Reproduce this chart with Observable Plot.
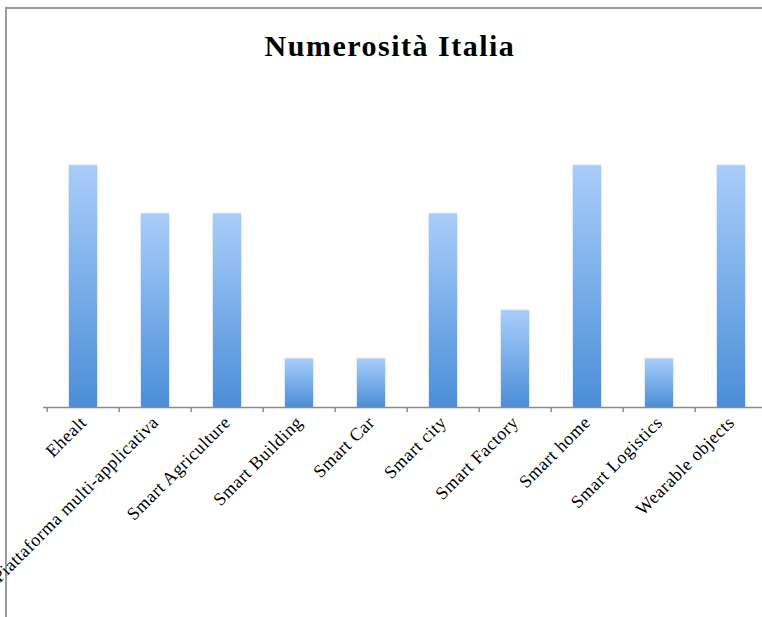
<!DOCTYPE html>
<html>
<head>
<meta charset="utf-8">
<script src="https://cdn.jsdelivr.net/npm/d3@7"></script>
<script src="https://cdn.jsdelivr.net/npm/@observablehq/plot@0.6"></script>
<style>
  html, body { margin: 0; padding: 0; background: #fff; overflow: hidden; width: 762px; height: 617px; }
  #frame { position: absolute; left: 5px; top: 7px; width: 820px; height: 700px;
           border-left: 2px solid #9a9a9a; border-top: 2px solid #9a9a9a; box-sizing: border-box; }
  #title { position: absolute; left: 0; top: 31px; width: 780px; text-align: center;
           font: bold 30px/30px "Liberation Serif", serif; letter-spacing: 1.5px; color: #000; margin: 0; }
  #chart { position: absolute; left: 0; top: 0; width: 780px; }
  #chart svg { max-width: none !important; }
  #chart svg text { letter-spacing: 0.5px; }
  #chart svg g[aria-label="bar"] { filter: drop-shadow(0 0 1px rgba(0,0,0,0.25)); }
</style>
</head>
<body>
<div id="frame"></div>
<div id="title">Numerosità Italia</div>
<div id="chart"></div>
<script>
// Numerosità per ambito applicativo (Italia)
const categories = [
  "Ehealt",
  "Piattaforma multi-applicativa",
  "Smart Agriculture",
  "Smart Building",
  "Smart Car",
  "Smart city",
  "Smart Factory",
  "Smart home",
  "Smart Logistics",
  "Wearable objects"
];
const counts = [5, 4, 4, 1, 1, 4, 2, 5, 1, 5];
const yDomain = [0, 6];

const data = categories.map((category, i) => ({category, count: counts[i]}));

const width = 780, height = 617;
const marginLeft = 43, marginRight = 9, marginTop = 117, marginBottom = 210;
const step = (width - marginLeft - marginRight) / categories.length;
const axisColor = "#8c8c8c";

const chart = Plot.plot({
  width, height, marginLeft, marginRight, marginTop, marginBottom,
  style: "font-family:'Liberation Serif',serif;font-size:18px;color:#000;background:transparent;overflow:visible;max-width:none",
  x: {type: "band", domain: categories, paddingInner: 0.61, paddingOuter: 0.305, axis: null},
  y: {domain: yDomain, axis: null},
  marks: [
    Plot.barY(data, {x: "category", y: "count", fill: "url(#barFill)"}),
    Plot.ruleY([0], {stroke: axisColor, strokeWidth: 1.5}),
    // category separators below the baseline
    Plot.ruleX(categories, {x: d => d, dx: -step / 2, y1: 0, y2: 0, insetBottom: -5,
                            stroke: axisColor, strokeWidth: 1.5}),
    Plot.axisX({tickSize: 0, tickRotate: -45, tickPadding: 12, dx: 0, label: null})
  ]
});

// vertical gradient used by every bar
const ns = "http://www.w3.org/2000/svg";
const defs = document.createElementNS(ns, "defs");
defs.innerHTML = `<linearGradient id="barFill" x1="0" y1="0" x2="0" y2="1">
  <stop offset="0" stop-color="#a9cdfb"/>
  <stop offset="1" stop-color="#4a8ed7"/>
</linearGradient>`;
chart.prepend(defs);

document.getElementById("chart").appendChild(chart);
</script>
</body>
</html>
